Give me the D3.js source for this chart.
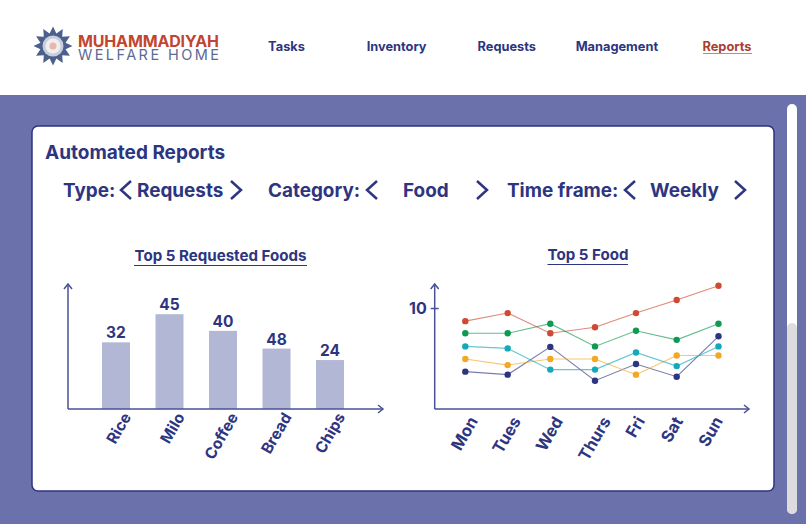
<!DOCTYPE html>
<html>
<head>
<meta charset="utf-8">
<script src="https://cdn.jsdelivr.net/npm/d3@7"></script>
<style>
  body { margin: 0; background: #6b71ab; }
  svg { display: block; font-family: Inter, "Noto Sans", sans-serif; }
  text { fill: #2e3580; font-weight: 700; }
</style>
</head>
<body>
<div id="container"></div>
<script>
const navItems = ["Tasks", "Inventory", "Requests", "Management", "Reports"];

const foods = ["Rice", "Milo", "Coffee", "Bread", "Chips"];
// the printed numbers do not follow the bar heights in the original
const foodLabels = ["32", "45", "40", "48", "24"];
const foodBars = [32, 45.5, 37.5, 29, 23.5];

const days = ["Mon", "Tues", "Wed", "Thurs", "Fri", "Sat", "Sun"];
const redSeries = [8.7, 9.5, 7.5, 8.1, 9.5, 10.8, 12.2];
const greenSeries = [7.5, 7.5, 8.45, 6.2, 7.75, 6.85, 8.45];
const tealSeries = [6.2, 6.0, 3.9, 3.9, 5.6, 4.25, 6.2];
const orangeSeries = [4.95, 4.35, 4.95, 4.95, 3.4, 5.3, 5.3];
const navySeries = [3.7, 3.4, 6.15, 2.8, 4.45, 3.2, 7.2];

const navy = "#2e3580";
const axisColor = "#4a5096";

const svg = d3.create("svg").attr("width", 806).attr("height", 524);

// header and background
svg.append("rect").attr("width", 806).attr("height", 524).attr("fill", "#6b71ab");
svg.append("rect").attr("width", 806).attr("height", 95).attr("fill", "#fff");

// logo: 12 point star with a small seal in the middle
const starPoints = d3.range(24).map((i) => {
  const r = i % 2 ? 13 : 19.5;
  const a = (i * Math.PI) / 12 - Math.PI / 2;
  return [53 + r * Math.cos(a), 46 + r * Math.sin(a)];
});
svg.append("polygon").attr("points", starPoints.join(" ")).attr("fill", "#4d5f8c");
svg.append("circle").attr("cx", 53).attr("cy", 46).attr("r", 10.5).attr("fill", "#c9cedd");
svg.append("circle").attr("cx", 53).attr("cy", 46).attr("r", 7.5).attr("fill", "#f1eef0");
svg.append("circle").attr("cx", 53).attr("cy", 46).attr("r", 3.5).attr("fill", "#eab5ae");

svg.append("text").attr("x", 78).attr("y", 47)
  .attr("font-size", 16).attr("textLength", 141)
  .style("fill", "#c2452f").text("MUHAMMADIYAH");
svg.append("text").attr("x", 78).attr("y", 59.5)
  .attr("font-size", 14.5).attr("textLength", 141)
  .style("fill", "#5b6a92").style("font-weight", 400).text("WELFARE HOME");

// nav
const navX = d3.scalePoint().domain(navItems).range([286.5, 727]);
svg.selectAll(".nav")
  .data(navItems)
  .enter()
  .append("text")
  .attr("class", "nav")
  .attr("x", (d) => navX(d))
  .attr("y", 51)
  .attr("text-anchor", "middle")
  .attr("font-size", 12.8)
  .style("fill", (d) => (d === "Reports" ? "#a83f30" : navy))
  .text((d) => d);
svg.append("line").attr("x1", 703).attr("x2", 752).attr("y1", 53.5).attr("y2", 53.5)
  .attr("stroke", "#c08a84").attr("stroke-width", 1);

// scrollbar
svg.append("rect").attr("x", 787).attr("y", 104).attr("width", 10).attr("height", 410)
  .attr("rx", 5).attr("fill", "#fff");
svg.append("rect").attr("x", 787).attr("y", 323).attr("width", 10).attr("height", 191)
  .attr("rx", 5).attr("fill", "#dcdcde");

// card
svg.append("rect").attr("x", 32).attr("y", 126).attr("width", 742).attr("height", 365)
  .attr("rx", 6).attr("fill", "#fff").attr("stroke", navy).attr("stroke-width", 1.5);

svg.append("text").attr("x", 45).attr("y", 159).attr("font-size", 19).text("Automated Reports");

// filter row
const filterTexts = [
  ["Type:", 63], ["Requests", 137], ["Category:", 268], ["Food", 403],
  ["Time frame:", 507], ["Weekly", 650],
];
svg.selectAll(".filter")
  .data(filterTexts)
  .enter()
  .append("text")
  .attr("class", "filter")
  .attr("x", (d) => d[1])
  .attr("y", 197)
  .attr("font-size", 18.9)
  .text((d) => d[0]);

const chevrons = [[131, -1], [231, 1], [377, -1], [477, 1], [635, -1], [735, 1]];
svg.selectAll(".chevron")
  .data(chevrons)
  .enter()
  .append("path")
  .attr("class", "chevron")
  .attr("d", (d) => `M${d[0]},181 L${d[0] + d[1] * 10},190 L${d[0]},199`)
  .attr("fill", "none")
  .attr("stroke", navy)
  .attr("stroke-width", 2.5);

// arrow axes shared by both charts
function arrowAxes(left, right, top, bottom) {
  const g = svg.append("g").attr("fill", "none").attr("stroke", axisColor).attr("stroke-width", 1.5);
  g.append("path").attr("d", `M${left},${bottom} L${left},${top}`);
  g.append("path").attr("d", `M${left},${bottom} L${right},${bottom}`);
  g.append("path").attr("d", `M${left - 4},${top + 5} L${left},${top} L${left + 4},${top + 5}`);
  g.append("path").attr("d", `M${right - 5},${bottom - 4} L${right},${bottom} L${right - 5},${bottom + 4}`);
}

function chartTitle(label, x, x1, x2, y) {
  svg.append("text").attr("x", x).attr("y", y).attr("text-anchor", "middle")
    .attr("font-size", 15.1).text(label);
  svg.append("line").attr("x1", x1).attr("x2", x2).attr("y1", y + 4.5).attr("y2", y + 4.5)
    .attr("stroke", navy).attr("stroke-width", 1);
}

function rotatedLabels(axisG, dx, dy, size) {
  axisG.select(".domain").remove();
  axisG.selectAll("text")
    .attr("text-anchor", "end")
    .attr("font-size", size)
    .attr("font-family", "Inter")
    .attr("transform", `translate(${dx},${dy}) rotate(-60)`)
    .attr("dy", "0.35em");
}

// bar chart
const chartTop = 284;
const chartBottom = 409;

chartTitle("Top 5 Requested Foods", 220.5, 134, 307, 261);

const barX = d3.scaleBand().domain(foods).range([102, 344]).paddingInner(0.4766).paddingOuter(0);
const barY = d3.scaleLinear().domain([0, 60]).range([chartBottom, chartTop]);

svg.selectAll(".bar")
  .data(foods)
  .enter()
  .append("rect")
  .attr("class", "bar")
  .attr("x", (d) => barX(d))
  .attr("y", (d, i) => barY(foodBars[i]))
  .attr("width", barX.bandwidth())
  .attr("height", (d, i) => chartBottom - barY(foodBars[i]))
  .attr("fill", "#b3b7d6");

svg.selectAll(".bar-label")
  .data(foods)
  .enter()
  .append("text")
  .attr("class", "bar-label")
  .attr("x", (d) => barX(d) + barX.bandwidth() / 2)
  .attr("y", (d, i) => barY(foodBars[i]) - 4)
  .attr("text-anchor", "middle")
  .attr("font-size", 15.5)
  .text((d, i) => foodLabels[i]);

arrowAxes(68, 383, chartTop, chartBottom);

const barAxis = svg.append("g")
  .attr("transform", `translate(0,${chartBottom})`)
  .call(d3.axisBottom(barX).tickSize(0).tickPadding(8));
rotatedLabels(barAxis, 4, 1, 15.5);

// line chart
chartTitle("Top 5 Food", 588, 547.5, 628, 260);

const lineX = d3.scaleOrdinal()
  .domain(days)
  .range([465.3, 507.7, 550.3, 595, 636, 676.7, 718.5]);
const lineY = d3.scaleLinear().domain([0, 12.38]).range([chartBottom, chartTop]);

const series = [
  { values: navySeries, color: "#2e3580" },
  { values: orangeSeries, color: "#f5a623" },
  { values: tealSeries, color: "#12a9bb" },
  { values: greenSeries, color: "#0e9a52" },
  { values: redSeries, color: "#cf4a35" },
];

const line = d3.line()
  .x((d, i) => lineX(days[i]))
  .y((d) => lineY(d));

series.forEach((s) => {
  svg.append("path")
    .attr("d", line(s.values))
    .attr("fill", "none")
    .attr("stroke", s.color)
    .attr("stroke-opacity", 0.65)
    .attr("stroke-width", 1.1);
  svg.append("g")
    .selectAll("circle")
    .data(s.values)
    .enter()
    .append("circle")
    .attr("cx", (d, i) => lineX(days[i]))
    .attr("cy", (d) => lineY(d))
    .attr("r", 3.2)
    .attr("fill", s.color);
});

arrowAxes(434.7, 749, chartTop, chartBottom);

const yAxis = svg.append("g")
  .attr("transform", "translate(434.7,0)")
  .call(d3.axisLeft(lineY).tickValues([10]).tickSize(4).tickPadding(4));
yAxis.select(".domain").remove();
yAxis.selectAll("line").attr("x2", 4).attr("x1", -4).attr("stroke", axisColor).attr("stroke-width", 1.5);
yAxis.selectAll("text").attr("font-size", 16).attr("font-family", "Inter");

// the day labels sit on their own uneven spacing in the original
const dayLabelX = d3.scaleOrdinal()
  .domain(days)
  .range([466, 509, 551, 599, 633, 671, 711]);
const lineAxis = svg.append("g")
  .attr("transform", `translate(0,${chartBottom})`)
  .call(d3.axisBottom(dayLabelX).tickSize(0).tickPadding(8));
rotatedLabels(lineAxis, 0, 5, 16.5);

document.getElementById("container").append(svg.node());
</script>
</body>
</html>
